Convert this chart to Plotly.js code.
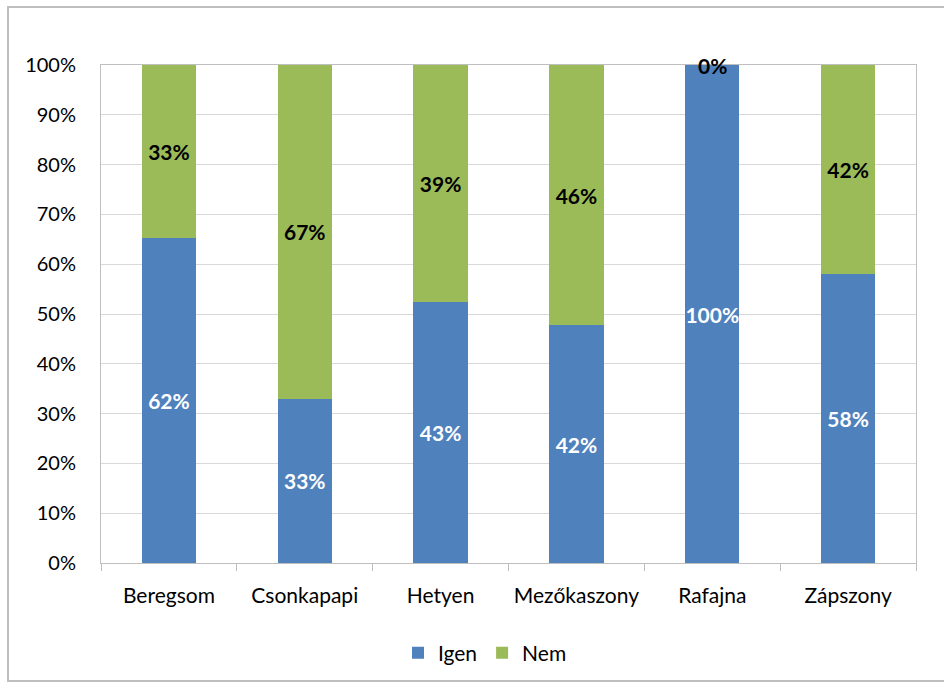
<!DOCTYPE html>
<html>
<head>
<meta charset="utf-8">
<script src="https://cdn.plot.ly/plotly-3.0.1.min.js"></script>
<style>
html,body{margin:0;padding:0;background:#fff;}
#chart{width:944px;height:682px;}
</style>
</head>
<body>
<div id="chart"></div>
<script>
var categories = ["Beregsom", "Csonkapapi", "Hetyen", "Mezőkaszony", "Rafajna", "Zápszony"];
var igenValues = [62, 33, 43, 42, 100, 58];
var nemValues = [33, 67, 39, 46, 0, 42];
var yTickVals = [0, 10, 20, 30, 40, 50, 60, 70, 80, 90, 100];
var yTickText = ["0%", "10%", "20%", "30%", "40%", "50%", "60%", "70%", "80%", "90%", "100%"];

var FONT = "Lato, 'Open Sans', sans-serif";

function labels(arr) { return arr.map(function (v) { return "<b>" + v + "%</b>"; }); }

// Nem labels for zero-height segments are drawn as annotations at top
var nemText = nemValues.map(function (v) { return v === 0 ? "" : "<b>" + v + "%</b>"; });

var traceIgen = {
  type: "bar", name: "Igen", x: categories, y: igenValues,
  marker: {color: "#4f81bd"},
  text: labels(igenValues), textposition: "inside", insidetextanchor: "middle",
  textangle: 0, constraintext: "none",
  textfont: {family: FONT, size: 21, color: "#ffffff", weight: "bold"},
  hoverinfo: "skip"
};
var traceNem = {
  type: "bar", name: "Nem", x: categories, y: nemValues,
  marker: {color: "#9bbb59"},
  text: nemText, textposition: "inside", insidetextanchor: "middle",
  textangle: 0, constraintext: "none",
  textfont: {family: FONT, size: 21, color: "#000000", weight: "bold"},
  hoverinfo: "skip"
};

var annotations = [];
categories.forEach(function (c, i) {
  if (nemValues[i] === 0) {
    annotations.push({
      x: c, y: 100, xref: "x", yref: "y", text: "<b>" + nemValues[i] + "%</b>", showarrow: false,
      yanchor: "middle", font: {family: FONT, size: 21, color: "#000000"}
    });
  }
});

var L = 101, R = 28, T = 65, B = 119;
var pw = 944 - L - R, ph = 682 - T - B;
function px2x(px) { return (px - L) / pw; }
function py2y(py) { return (682 - B - py) / ph; }

var layout = {
  width: 944, height: 682,
  margin: {l: L, r: R, t: T, b: B, pad: 0, autoexpand: false},
  paper_bgcolor: "#ffffff", plot_bgcolor: "#ffffff",
  barmode: "stack", barnorm: "percent", bargap: 0.6,
  font: {family: FONT, size: 21, color: "#000000"},
  xaxis: {
    showgrid: false, showline: true, linecolor: "#bfbfbf", linewidth: 1,
    ticks: "outside", ticklen: 7, tickcolor: "#bfbfbf", tickson: "boundaries",
    ticklabelstandoff: 14,
    tickfont: {family: FONT, size: 21, color: "#000000"},
    mirror: true, fixedrange: true, automargin: false
  },
  yaxis: {
    range: [0, 100], tickvals: yTickVals, ticktext: yTickText,
    showgrid: true, gridcolor: "#d9d9d9", gridwidth: 1,
    showline: true, linecolor: "#bfbfbf", linewidth: 1, mirror: true,
    ticks: "", ticklabelstandoff: 20,
    tickfont: {family: FONT, size: 20, color: "#000000"},
    zeroline: false, fixedrange: true, automargin: false
  },
  legend: {
    orientation: "h", x: px2x(485), xanchor: "center", y: py2y(653), yanchor: "middle",
    font: {family: FONT, size: 21, color: "#000000"},
    itemwidth: 30, tracegroupgap: 0, traceorder: "normal"
  },
  showlegend: true,
  annotations: annotations,
  shapes: [{
    type: "rect", xref: "paper", yref: "paper",
    x0: px2x(8), x1: px2x(960), y0: py2y(681), y1: py2y(7),
    line: {color: "#bfbfbf", width: 2}, fillcolor: "rgba(0,0,0,0)", layer: "below"
  }]
};

Plotly.newPlot("chart", [traceIgen, traceNem], layout, {displayModeBar: false, staticPlot: true});
</script>
</body>
</html>
